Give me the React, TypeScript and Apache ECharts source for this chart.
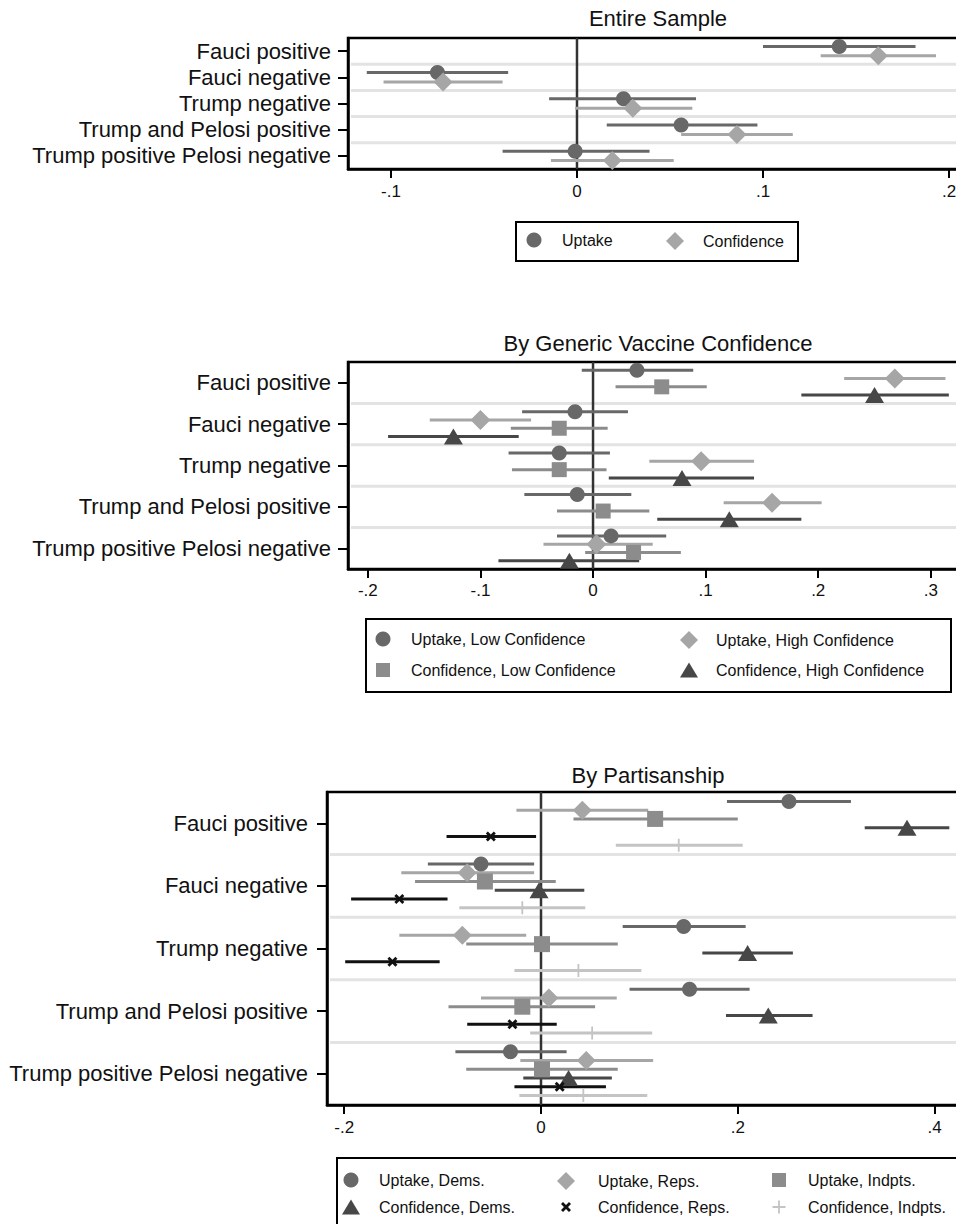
import React, { useEffect, useRef } from 'react';
import * as echarts from 'echarts';

// ---------- categories & tick labels ----------
const ROWS = [
  'Fauci positive',
  'Fauci negative',
  'Trump negative',
  'Trump and Pelosi positive',
  'Trump positive Pelosi negative',
];
const X_TICKS_1 = [-0.1, 0, 0.1, 0.2];
const X_TICKS_2 = [-0.2, -0.1, 0, 0.1, 0.2, 0.3];
const X_TICKS_3 = [-0.2, 0, 0.2, 0.4];

// ---------- data: [estimate, lower CI, upper CI] per row ----------
// Panel 1: Entire Sample
const p1Uptake = [[0.141, 0.100, 0.182], [-0.075, -0.113, -0.037], [0.025, -0.015, 0.064], [0.056, 0.016, 0.097], [-0.001, -0.040, 0.039]];
const p1Confidence = [[0.162, 0.131, 0.193], [-0.072, -0.104, -0.040], [0.030, -0.001, 0.062], [0.086, 0.056, 0.116], [0.019, -0.014, 0.052]];

// Panel 2: By Generic Vaccine Confidence
const p2UptakeLow = [[0.039, -0.010, 0.089], [-0.016, -0.063, 0.031], [-0.030, -0.075, 0.015], [-0.014, -0.061, 0.034], [0.016, -0.032, 0.065]];
const p2UptakeHigh = [[0.268, 0.223, 0.313], [-0.100, -0.145, -0.055], [0.096, 0.050, 0.143], [0.159, 0.116, 0.203], [0.003, -0.044, 0.053]];
const p2ConfLow = [[0.061, 0.020, 0.101], [-0.030, -0.073, 0.013], [-0.030, -0.072, 0.012], [0.009, -0.032, 0.050], [0.036, -0.007, 0.078]];
const p2ConfHigh = [[0.250, 0.185, 0.316], [-0.124, -0.182, -0.066], [0.079, 0.014, 0.143], [0.121, 0.057, 0.185], [-0.021, -0.084, 0.041]];

// Panel 3: By Partisanship
const p3UptakeDem = [[0.252, 0.189, 0.315], [-0.061, -0.115, -0.007], [0.145, 0.083, 0.208], [0.151, 0.090, 0.212], [-0.031, -0.087, 0.026]];
const p3UptakeRep = [[0.042, -0.025, 0.109], [-0.075, -0.142, -0.007], [-0.080, -0.144, -0.015], [0.008, -0.061, 0.077], [0.046, -0.021, 0.114]];
const p3UptakeInd = [[0.116, 0.033, 0.200], [-0.057, -0.128, 0.015], [0.001, -0.076, 0.078], [-0.019, -0.094, 0.055], [0.001, -0.076, 0.078]];
const p3ConfDem = [[0.372, 0.329, 0.415], [-0.002, -0.047, 0.044], [0.210, 0.164, 0.256], [0.231, 0.188, 0.276], [0.028, -0.018, 0.072]];
const p3ConfRep = [[-0.051, -0.096, -0.005], [-0.144, -0.193, -0.095], [-0.151, -0.199, -0.103], [-0.029, -0.075, 0.016], [0.019, -0.027, 0.066]];
const p3ConfInd = [[0.140, 0.076, 0.205], [-0.019, -0.083, 0.045], [0.038, -0.027, 0.102], [0.052, -0.011, 0.113], [0.043, -0.022, 0.108]];

// ---------- styling ----------
const FONT = '"Liberation Sans", Arial, Helvetica, sans-serif';
const X_PATH = 'path://M2,0L5,3L8,0L10,2L7,5L10,8L8,10L5,7L2,10L0,8L3,5L0,2Z';
const PLUS_PATH = 'path://M4.3,0H5.7V4.3H10V5.7H5.7V10H4.3V5.7H0V4.3H4.3Z';

const C_CIRCLE = '#686868';
const C_DIAMOND = '#a6a6a6';
const C_SQUARE = '#8c8c8c';
const C_TRI = '#474747';
const C_X = '#111111';
const C_PLUS = '#c4c4c4';

type SeriesDef = {
  name: string;
  data: number[][];
  symbol: string;
  size: number | number[];
  color: string;
  off: number;
  lg: number[]; // legend: icon center x, center y, text x
  lgSize: number[];
};

type PanelDef = {
  title: string;
  titleTop: number;
  left: number;
  top: number;
  width: number;
  height: number;
  min: number;
  max: number;
  ticks: number[];
  yLabelMargin: number;
  xLabelMargin: number;
  box: number[];
  series: SeriesDef[];
};

const panels: PanelDef[] = [
  {
    title: 'Entire Sample', titleTop: 7,
    left: 348, top: 38, width: 620, height: 131,
    min: -0.1231, max: 0.2102, ticks: X_TICKS_1,
    yLabelMargin: 17, xLabelMargin: 14,
    box: [516, 222, 282, 39],
    series: [
      { name: 'Uptake', data: p1Uptake, symbol: 'circle', size: 15, color: C_CIRCLE, off: -0.18, lg: [534, 241, 562], lgSize: [15, 15] },
      { name: 'Confidence', data: p1Confidence, symbol: 'diamond', size: 19, color: C_DIAMOND, off: 0.18, lg: [675, 241, 703], lgSize: [18, 18] },
    ],
  },
  {
    title: 'By Generic Vaccine Confidence', titleTop: 332,
    left: 348, top: 362, width: 620, height: 207,
    min: -0.2176, max: 0.333, ticks: X_TICKS_2,
    yLabelMargin: 17, xLabelMargin: 13,
    box: [366, 619, 585, 73],
    series: [
      { name: 'Uptake, Low Confidence', data: p2UptakeLow, symbol: 'circle', size: 15, color: C_CIRCLE, off: -0.3, lg: [383, 640, 411], lgSize: [15, 15] },
      { name: 'Uptake, High Confidence', data: p2UptakeHigh, symbol: 'diamond', size: 20, color: C_DIAMOND, off: -0.1, lg: [689, 640, 716], lgSize: [18, 18] },
      { name: 'Confidence, Low Confidence', data: p2ConfLow, symbol: 'rect', size: 15, color: C_SQUARE, off: 0.1, lg: [383, 671, 411], lgSize: [14, 14] },
      { name: 'Confidence, High Confidence', data: p2ConfHigh, symbol: 'triangle', size: [19, 16], color: C_TRI, off: 0.3, lg: [689, 671, 716], lgSize: [18, 15] },
    ],
  },
  {
    title: 'By Partisanship', titleTop: 764,
    left: 327, top: 792, width: 642, height: 313,
    min: -0.2175, max: 0.435, ticks: X_TICKS_3,
    yLabelMargin: 19, xLabelMargin: 14,
    box: [337, 1158, 622, 90],
    series: [
      { name: 'Uptake, Dems.', data: p3UptakeDem, symbol: 'circle', size: 15, color: C_CIRCLE, off: -0.35, lg: [351, 1181, 379], lgSize: [15, 15] },
      { name: 'Uptake, Reps.', data: p3UptakeRep, symbol: 'diamond', size: 19, color: C_DIAMOND, off: -0.21, lg: [566, 1181, 598], lgSize: [18, 18] },
      { name: 'Uptake, Indpts.', data: p3UptakeInd, symbol: 'rect', size: 16, color: C_SQUARE, off: -0.07, lg: [779, 1181, 808], lgSize: [14, 14] },
      { name: 'Confidence, Dems.', data: p3ConfDem, symbol: 'triangle', size: [19, 16], color: C_TRI, off: 0.07, lg: [351, 1208, 379], lgSize: [18, 15] },
      { name: 'Confidence, Reps.', data: p3ConfRep, symbol: X_PATH, size: 10, color: C_X, off: 0.21, lg: [566, 1208, 598], lgSize: [10, 10] },
      { name: 'Confidence, Indpts.', data: p3ConfInd, symbol: PLUS_PATH, size: 13, color: C_PLUS, off: 0.35, lg: [779, 1208, 808], lgSize: [13, 13] },
    ],
  },
];

const ROW_BOUNDS = ROWS.slice(1).map((_, i) => i + 1);
const ROW_CENTERS = ROWS.map((_, i) => i + 0.5);

const fmtX = (v: number) => {
  if (Math.abs(v) < 1e-9) return '0';
  const s = (Math.round(v * 10) / 10).toString();
  return s.replace('0.', '.');
};

function buildOption() {
  const grid: any[] = [];
  const xAxis: any[] = [];
  const yAxis: any[] = [];
  const series: any[] = [];
  const title: any[] = [];
  const legend: any[] = [];
  const graphic: any[] = [];

  panels.forEach((p, k) => {
    grid.push({ left: p.left, top: p.top, width: p.width, height: p.height, show: true, borderColor: '#000', borderWidth: 2.5, backgroundColor: 'transparent' });
    title.push({
      text: p.title, left: p.left + p.width / 2, top: p.titleTop, textAlign: 'center', padding: 0,
      textStyle: { fontFamily: FONT, fontSize: 22, fontWeight: 'normal', color: '#111' },
    });
    xAxis.push({
      type: 'value', gridIndex: k, min: p.min, max: p.max,
      axisLine: { show: true, onZero: false, lineStyle: { color: '#000', width: 2.5 } },
      axisTick: { show: true, customValues: p.ticks, length: 9, lineStyle: { color: '#000', width: 2 } },
      axisLabel: { customValues: p.ticks, formatter: fmtX, fontSize: 17, fontFamily: FONT, color: '#111', margin: p.xLabelMargin },
      splitLine: { show: false },
    });
    yAxis.push({
      type: 'value', gridIndex: k, min: 0, max: ROWS.length, inverse: true, position: 'left',
      axisLine: { show: true, onZero: false, lineStyle: { color: '#000', width: 2.5 } },
      axisTick: { show: true, customValues: ROW_CENTERS, length: 10, lineStyle: { color: '#000', width: 2 } },
      axisLabel: {
        customValues: ROW_CENTERS, formatter: (v: number) => ROWS[Math.floor(v)] || '',
        fontSize: 22, fontFamily: FONT, color: '#111', margin: p.yLabelMargin,
      },
      splitLine: { show: false },
    });

    // row separators
    series.push({
      type: 'custom', name: 'sep' + k, xAxisIndex: k, yAxisIndex: k, silent: true, z: 1,
      encode: { x: 0, y: 1 },
      data: ROW_BOUNDS.map((b) => [0, b]),
      renderItem: (params: any, api: any) => {
        const y = api.coord([0, api.value(1)])[1];
        const cs = params.coordSys;
        return { type: 'line', shape: { x1: cs.x + 3, y1: y, x2: cs.x + cs.width, y2: y }, style: { stroke: '#e3e3e3', lineWidth: 3 } };
      },
    });
    // zero line
    series.push({
      type: 'custom', name: 'zero' + k, xAxisIndex: k, yAxisIndex: k, silent: true, z: 2,
      encode: { x: 0, y: 1 },
      data: [[0, 0]],
      renderItem: (params: any, api: any) => {
        const a = api.coord([api.value(0), 0]);
        const b = api.coord([api.value(0), ROWS.length]);
        return { type: 'line', shape: { x1: a[0], y1: a[1], x2: b[0], y2: b[1] }, style: { stroke: '#333', lineWidth: 2.5 } };
      },
    });

    p.series.forEach((s) => {
      // CI bars
      series.push({
        type: 'custom', name: s.name + ' CI', xAxisIndex: k, yAxisIndex: k, silent: true, z: 3,
        encode: { x: [0, 1], y: 2 },
        data: s.data.map((d, i) => [d[1], d[2], i + 0.5 + s.off]),
        renderItem: (params: any, api: any) => {
          const a = api.coord([api.value(0), api.value(2)]);
          const b = api.coord([api.value(1), api.value(2)]);
          return { type: 'line', shape: { x1: a[0], y1: a[1], x2: b[0], y2: b[1] }, style: { stroke: s.color, lineWidth: 3 } };
        },
      });
      // point estimates
      series.push({
        type: 'scatter', name: s.name, xAxisIndex: k, yAxisIndex: k, silent: true, z: 4,
        symbol: s.symbol, symbolSize: s.size,
        itemStyle: { color: s.color, opacity: 1 },
        data: s.data.map((d, i) => [d[0], i + 0.5 + s.off]),
      });
      legend.push({
        data: [{ name: s.name, icon: s.symbol }],
        left: s.lg[0] - s.lgSize[0] / 2, top: s.lg[1] - 9,
        itemWidth: s.lgSize[0], itemHeight: s.lgSize[1], padding: 0, selectedMode: false,
        textStyle: { fontFamily: FONT, fontSize: 16, color: '#111', padding: [0, 0, 0, Math.max(0, s.lg[2] - (s.lg[0] + s.lgSize[0] / 2) - 5)] },
      });
    });

    graphic.push({
      type: 'rect', silent: true,
      shape: { x: p.box[0], y: p.box[1], width: p.box[2], height: p.box[3] },
      style: { fill: 'none', stroke: '#000', lineWidth: 2 },
    });
  });

  return { animation: false, backgroundColor: '#fff', grid, xAxis, yAxis, series, title, legend, graphic, tooltip: { show: false } };
}

export default function App() {
  const ref = useRef<HTMLDivElement>(null);
  useEffect(() => {
    if (!ref.current) return;
    const chart = echarts.init(ref.current, undefined, { renderer: 'svg' });
    chart.setOption(buildOption() as any);
    return () => chart.dispose();
  }, []);
  return (
    <div style={{ position: 'fixed', left: 0, top: 0, width: 956, height: 1224, overflow: 'hidden', background: '#fff' }}>
      <div ref={ref} style={{ width: 1000, height: 1224 }} />
    </div>
  );
}
